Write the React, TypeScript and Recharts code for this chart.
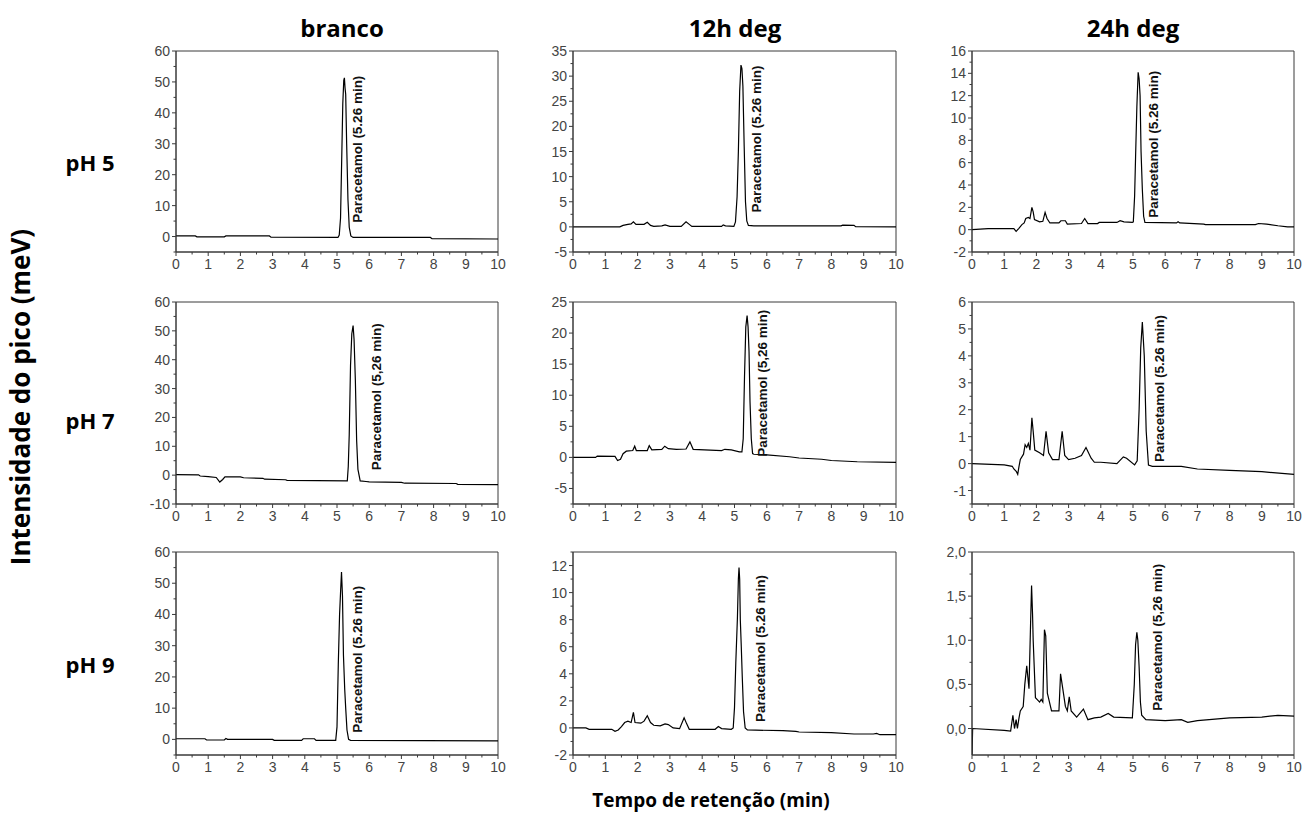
import React from "react";
import { LineChart, Line, XAxis, YAxis, ReferenceArea, ReferenceDot } from "recharts";

type Pt = [number, number];

const columns = ["branco", "12h deg", "24h deg"];
const rows = ["pH 5", "pH 7", "pH 9"];
const xTitle = "Tempo de retenção (min)";
const yTitle = "Intensidade do pico (meV)";

const xMajor = [0, 1, 2, 3, 4, 5, 6, 7, 8, 9, 10];
const xMinor = [0.5, 1.5, 2.5, 3.5, 4.5, 5.5, 6.5, 7.5, 8.5, 9.5];

// chromatograms, [time (min), intensity]
const branco5: Pt[] = [
  [0, 0.2], [0.6, 0.2], [0.65, -0.1], [1.5, -0.1], [1.55, 0.2], [2.9, 0.2], [2.95, -0.2],
  [5.03, -0.3], [5.07, 0.5], [5.11, 6], [5.15, 27], [5.18, 43], [5.21, 50.5], [5.23, 51.3],
  [5.25, 48], [5.27, 46], [5.3, 30], [5.34, 12], [5.38, 3], [5.43, 0.2], [5.5, -0.3],
  [7.9, -0.3], [7.95, -0.7], [10, -0.8],
];
const deg12_5: Pt[] = [
  [0, 0], [1.45, 0], [1.55, 0.3], [1.7, 0.5], [1.8, 0.6], [1.87, 1.0], [1.95, 0.5], [2.2, 0.5],
  [2.3, 0.9], [2.4, 0.3], [2.5, 0.1], [2.75, 0.2], [2.85, 0.4], [3.0, 0.1], [3.35, 0.1],
  [3.5, 1.0], [3.6, 0.5], [3.68, 0.1], [4.6, 0.1], [4.65, 0.4], [4.72, 0.2], [4.98, 0.1],
  [5.03, 1], [5.08, 6], [5.12, 15], [5.16, 27], [5.2, 32.2], [5.23, 31.5], [5.26, 28],
  [5.3, 16], [5.34, 5], [5.38, 1.2], [5.43, 0.3], [5.6, 0.2], [8.3, 0.2], [8.35, 0.35],
  [8.7, 0.3], [8.75, 0.05], [10, 0],
];
const deg24_5: Pt[] = [
  [0, 0], [0.5, 0.1], [1.3, 0.1], [1.37, -0.15], [1.45, 0.1], [1.55, 0.45], [1.62, 0.6],
  [1.67, 1.0], [1.75, 1.1], [1.8, 1.0], [1.86, 2.0], [1.9, 1.6], [1.94, 0.9], [2.1, 0.7],
  [2.2, 0.75], [2.27, 1.55], [2.33, 1.0], [2.42, 0.6], [2.7, 0.6], [2.76, 0.8], [2.9, 0.8],
  [2.96, 0.5], [3.4, 0.55], [3.5, 1.0], [3.6, 0.55], [3.9, 0.55], [3.95, 0.65], [4.5, 0.65],
  [4.6, 0.8], [4.72, 0.7], [4.98, 0.65], [5.01, 0.7], [5.05, 3], [5.08, 6.5], [5.12, 11],
  [5.16, 14.1], [5.19, 13.5], [5.22, 12], [5.25, 7], [5.29, 3.6], [5.33, 1.2], [5.37, 0.65],
  [6.35, 0.6], [6.4, 0.7], [6.45, 0.6], [7.2, 0.5], [7.25, 0.45], [8.8, 0.45], [8.9, 0.55],
  [9.15, 0.5], [9.5, 0.35], [9.8, 0.25], [10, 0.25],
];
const branco7: Pt[] = [
  [0, 0.2], [0.7, 0.1], [0.75, -0.3], [1.0, -0.5], [1.25, -0.8], [1.36, -2.4], [1.45, -1.5],
  [1.52, -0.6], [2.0, -0.6], [2.1, -0.9], [2.7, -1.1], [2.75, -1.4], [3.4, -1.6], [3.45, -1.8],
  [5.32, -2], [5.35, 3], [5.38, 14], [5.42, 38], [5.46, 49], [5.5, 51.8], [5.53, 47],
  [5.57, 33], [5.61, 12], [5.65, 2], [5.72, -2], [5.9, -2.2], [6.0, -2.3], [7.0, -2.5],
  [7.1, -2.8], [8.7, -2.9], [8.75, -3.2], [10, -3.3],
];
const deg12_7: Pt[] = [
  [0, 0], [0.7, 0], [0.75, 0.2], [1.3, 0.15], [1.38, -0.5], [1.47, -0.3], [1.55, 0.6],
  [1.65, 1.0], [1.85, 1.1], [1.91, 1.8], [1.96, 1.1], [2.3, 1.1], [2.36, 1.9], [2.44, 1.2],
  [2.75, 1.3], [2.84, 1.8], [2.95, 1.4], [3.2, 1.3], [3.5, 1.35], [3.62, 2.5], [3.72, 1.3],
  [4.6, 1.1], [4.7, 1.3], [4.9, 1.2], [5.15, 0.9], [5.23, 0.9], [5.27, 3], [5.31, 13],
  [5.35, 21], [5.39, 22.8], [5.42, 21], [5.45, 17], [5.48, 9], [5.52, 3], [5.56, 0.6],
  [5.6, 0.5], [6.0, 0.4], [6.7, 0.1], [7.0, -0.1], [7.7, -0.3], [8.0, -0.5], [8.8, -0.7],
  [10, -0.8],
];
const deg24_7: Pt[] = [
  [0, 0], [1.0, -0.05], [1.25, -0.1], [1.3, -0.2], [1.38, -0.3], [1.42, -0.4], [1.46, -0.1],
  [1.5, 0.15], [1.6, 0.35], [1.65, 0.7], [1.7, 0.6], [1.75, 0.75], [1.8, 0.5], [1.86, 1.7],
  [1.9, 1.2], [1.95, 0.5], [2.1, 0.4], [2.22, 0.3], [2.3, 1.2], [2.38, 0.4], [2.5, 0.15],
  [2.7, 0.15], [2.8, 1.2], [2.88, 0.3], [3.0, 0.15], [3.2, 0.2], [3.4, 0.3], [3.54, 0.6],
  [3.7, 0.2], [3.8, 0.05], [4.0, 0.05], [4.5, 0], [4.7, 0.25], [4.8, 0.2], [5.05, -0.05],
  [5.13, 0.1], [5.19, 2.0], [5.24, 4.3], [5.29, 5.26], [5.35, 4.0], [5.41, 1.2], [5.48, -0.05],
  [5.6, -0.1], [6.5, -0.1], [7.0, -0.2], [8.0, -0.25], [9.0, -0.3], [10, -0.4],
];
const branco9: Pt[] = [
  [0, 0.2], [0.9, 0.2], [0.95, -0.2], [1.5, -0.2], [1.55, 0.3], [1.6, 0], [3.0, 0],
  [3.05, -0.3], [3.9, -0.3], [3.95, 0.2], [4.3, 0.2], [4.35, -0.3], [4.96, -0.3], [5.0, 4],
  [5.04, 24], [5.08, 40], [5.11, 47], [5.14, 53.6], [5.17, 46], [5.2, 27], [5.24, 16],
  [5.27, 10], [5.31, 3], [5.36, 0], [5.42, -0.3], [10, -0.5],
];
const deg12_9: Pt[] = [
  [0, 0], [0.4, 0], [0.5, -0.1], [1.2, -0.1], [1.3, -0.25], [1.4, -0.15], [1.5, 0.1],
  [1.6, 0.4], [1.7, 0.5], [1.8, 0.4], [1.87, 1.15], [1.92, 0.4], [2.1, 0.35], [2.2, 0.5],
  [2.3, 0.9], [2.4, 0.4], [2.5, 0.2], [2.7, 0.15], [2.85, 0.3], [2.95, 0.25], [3.1, 0],
  [3.3, -0.05], [3.44, 0.75], [3.52, 0.3], [3.6, -0.1], [4.4, -0.1], [4.5, 0.1], [4.6, -0.05],
  [4.9, -0.1], [4.96, 0], [5.0, 1.5], [5.04, 4.8], [5.09, 8.1], [5.12, 11], [5.14, 11.85],
  [5.16, 11], [5.18, 8], [5.21, 6], [5.24, 3.8], [5.28, 1.2], [5.33, 0], [5.4, -0.15],
  [6.5, -0.2], [6.9, -0.25], [7.0, -0.3], [8.0, -0.35], [8.7, -0.45], [9.3, -0.45],
  [9.4, -0.4], [9.5, -0.5], [10, -0.5],
];
const deg24_9: Pt[] = [
  [0, -0.3], [0.02, 0], [1.0, -0.02], [1.2, -0.03], [1.27, 0.15], [1.32, 0], [1.37, 0.1],
  [1.41, 0], [1.46, 0.12], [1.5, 0.2], [1.59, 0.25], [1.64, 0.5], [1.7, 0.71], [1.77, 0.45],
  [1.82, 1.2], [1.85, 1.62], [1.88, 1.3], [1.9, 1.0], [1.97, 0.35], [2.1, 0.3], [2.15, 0.33],
  [2.2, 0.3], [2.25, 1.12], [2.29, 1.05], [2.34, 0.4], [2.47, 0.2], [2.7, 0.2], [2.75, 0.62],
  [2.82, 0.45], [2.9, 0.25], [2.96, 0.2], [3.02, 0.36], [3.08, 0.2], [3.25, 0.13],
  [3.46, 0.22], [3.6, 0.1], [3.8, 0.12], [4.0, 0.13], [4.23, 0.17], [4.4, 0.13], [4.98, 0.12],
  [5.04, 0.5], [5.08, 0.95], [5.12, 1.09], [5.15, 1.0], [5.19, 0.7], [5.23, 0.3], [5.27, 0.15],
  [5.4, 0.1], [6.0, 0.09], [6.5, 0.1], [6.7, 0.07], [7.0, 0.09], [8.0, 0.12], [9.0, 0.13],
  [9.5, 0.15], [10, 0.14],
];

// y ticks per panel
const yMajorB5 = [0, 10, 20, 30, 40, 50, 60];
const yMinorB5 = [-5, 5, 15, 25, 35, 45, 55];
const yMajorD12_5 = [-5, 0, 5, 10, 15, 20, 25, 30, 35];
const yMinorD12_5 = [-2.5, 2.5, 7.5, 12.5, 17.5, 22.5, 27.5, 32.5];
const yMajorD24_5 = [-2, 0, 2, 4, 6, 8, 10, 12, 14, 16];
const yMinorD24_5 = [-1, 1, 3, 5, 7, 9, 11, 13, 15];
const yMajorB7 = [-10, 0, 10, 20, 30, 40, 50, 60];
const yMinorB7 = [-5, 5, 15, 25, 35, 45, 55];
const yMajorD12_7 = [-5, 0, 5, 10, 15, 20, 25];
const yMinorD12_7 = [-7.5, -2.5, 2.5, 7.5, 12.5, 17.5, 22.5];
const yMajorD24_7 = [-1, 0, 1, 2, 3, 4, 5, 6];
const yMinorD24_7 = [-1.5, -0.5, 0.5, 1.5, 2.5, 3.5, 4.5, 5.5];
const yMajorB9 = [0, 10, 20, 30, 40, 50, 60];
const yMinorB9 = [-5, 5, 15, 25, 35, 45, 55];
const yMajorD12_9 = [-2, 0, 2, 4, 6, 8, 10, 12];
const yMinorD12_9 = [-1, 1, 3, 5, 7, 9, 11, 13];
const yMajorD24_9 = [0, 0.5, 1, 1.5, 2];
const yMinorD24_9 = [0.25, 0.75, 1.25, 1.75];

const panels = [
  { data: branco5, domain: [-5, 60], major: yMajorB5, minor: yMinorB5, lab: [5.65, 4.5], text: "Paracetamol (5.26 min)" },
  { data: deg12_5, domain: [-5, 35], major: yMajorD12_5, minor: yMinorD12_5, lab: [5.69, 2.85], text: "Paracetamol (5.26 min)" },
  { data: deg24_5, domain: [-2, 16], major: yMajorD24_5, minor: yMinorD24_5, lab: [5.65, 1.07], text: "Paracetamol (5.26 min)" },
  { data: branco7, domain: [-10, 60], major: yMajorB7, minor: yMinorB7, lab: [6.24, 1.7], text: "Paracetamol (5,26 min)" },
  { data: deg12_7, domain: [-7.5, 25], major: yMajorD12_7, minor: yMinorD12_7, lab: [5.89, 0.1], text: "Paracetamol (5,26 min)" },
  { data: deg24_7, domain: [-1.5, 6], major: yMajorD24_7, minor: yMinorD24_7, lab: [5.84, 0.06], text: "Paracetamol (5.26 min)" },
  { data: branco9, domain: [-5, 60], major: yMajorB9, minor: yMinorB9, lab: [5.65, 2.1], text: "Paracetamol (5.26 min)" },
  { data: deg12_9, domain: [-2, 13], major: yMajorD12_9, minor: yMinorD12_9, lab: [5.81, 0.44], text: "Paracetamol (5.26 min)" },
  { data: deg24_9, domain: [-0.3, 2], major: yMajorD24_9, minor: yMinorD24_9, lab: [5.79, 0.2], text: "Paracetamol (5,26 min)", comma: true },
];

const colLeft = [176, 573, 972];
const colW = [322, 323, 322];
const rowTop = [51, 302, 552];
const rowH = [201, 202, 203];

const AXIS = "#3a3a3a";
const TICK_TEXT = "#444";
const tickFont = "'Liberation Sans', Arial, sans-serif";
const titleFont = "'Open Sans', 'Noto Sans', sans-serif";

const PAD_L = 45;
const PAD_T = 8;
const PAD_R = 8;
const PAD_B = 30;

const XTick = (props: any) => {
  const { x, y, payload } = props;
  const v = payload.value;
  const major = Number.isInteger(v);
  return (
    <g>
      <line x1={x} x2={x} y1={y} y2={y + (major ? 4 : 2.5)} stroke={AXIS} />
      {major && (
        <text x={x} y={y + 17} textAnchor="middle" fontSize={14} fill={TICK_TEXT} fontFamily={tickFont}>
          {v}
        </text>
      )}
    </g>
  );
};

const makeYTick = (major: number[], comma?: boolean) => (props: any) => {
  const { x, y, payload } = props;
  const v = payload.value;
  const isMajor = major.some((m) => Math.abs(m - v) < 1e-9);
  const label = comma ? v.toFixed(1).replace(".", ",") : String(v);
  return (
    <g>
      <line x1={x - (isMajor ? 4 : 2.5)} x2={x} y1={y} y2={y} stroke={AXIS} />
      {isMajor && (
        <text x={x - 6} y={y} dy={5} textAnchor="end" fontSize={14} fill={TICK_TEXT} fontFamily={tickFont}>
          {label}
        </text>
      )}
    </g>
  );
};

const Panel = ({ p, col, row }: { p: any; col: number; row: number }) => {
  const w = colW[col] + PAD_L + PAD_R;
  const h = rowH[row] + PAD_T + PAD_B;
  const yTicks = [...p.major, ...p.minor].sort((a: number, b: number) => a - b);
  const data = p.data.map(([t, v]: Pt) => ({ t, v }));
  return (
    <div style={{ position: "absolute", left: colLeft[col] - PAD_L, top: rowTop[row] - PAD_T }}>
      <LineChart width={w} height={h} data={data} margin={{ top: PAD_T, right: PAD_R, bottom: 0, left: 0 }}>
        <XAxis
          type="number"
          dataKey="t"
          domain={[0, 10]}
          ticks={[...xMajor, ...xMinor].sort((a, b) => a - b)}
          interval={0}
          tickSize={0}
          tickMargin={0}
          tickLine={false}
          tick={XTick}
          height={PAD_B}
          stroke={AXIS}
          allowDataOverflow
        />
        <YAxis
          type="number"
          domain={p.domain}
          ticks={yTicks}
          interval={0}
          tickSize={0}
          tickMargin={0}
          tickLine={false}
          tick={makeYTick(p.major, p.comma)}
          width={PAD_L}
          stroke={AXIS}
          allowDataOverflow
        />
        <ReferenceArea x1={0} x2={10} y1={p.domain[0]} y2={p.domain[1]} fill="none" stroke={AXIS} strokeWidth={1} ifOverflow="visible" />
        <Line type="linear" dataKey="v" stroke="#000" strokeWidth={1.2} dot={false} isAnimationActive={false} />
        <ReferenceDot
          x={p.lab[0]}
          y={p.lab[1]}
          r={0}
          ifOverflow="visible"
          shape={(s: any) => (
            <text
              x={s.cx}
              y={s.cy}
              transform={`rotate(-90 ${s.cx} ${s.cy})`}
              dominantBaseline="central"
              fontSize={12.5}
              fontWeight="bold"
              fontFamily="'Liberation Sans Narrow', 'Arial Narrow', 'Liberation Sans', Arial, sans-serif"
              textLength={147}
              lengthAdjust="spacingAndGlyphs"
              fill="#111"
            >
              {p.text}
            </text>
          )}
        />
      </LineChart>
    </div>
  );
};

const colCenter = [342, 735, 1133];
const rowCenter = [162, 420, 664];

export default function App() {
  return (
    <div style={{ position: "absolute", left: 0, top: 0, width: 1302, height: 814, background: "#fff", fontFamily: titleFont }}>
      {columns.map((c, i) => (
        <div
          key={c}
          style={{ position: "absolute", left: colCenter[i], top: 27, transform: "translate(-50%, -50%)", fontSize: 24, fontWeight: 700, whiteSpace: "nowrap" }}
        >
          {c}
        </div>
      ))}
      {rows.map((r, i) => (
        <div
          key={r}
          style={{ position: "absolute", left: 90, top: rowCenter[i], transform: "translate(-50%, -50%)", fontSize: 22, fontWeight: 700, whiteSpace: "nowrap" }}
        >
          {r}
        </div>
      ))}
      <div
        style={{ position: "absolute", left: 20, top: 397, transform: "translate(-50%, -50%) rotate(-90deg)", fontSize: 26, fontWeight: 700, whiteSpace: "nowrap" }}
      >
        {yTitle}
      </div>
      <div
        style={{ position: "absolute", left: 711, top: 800, transform: "translate(-50%, -50%)", fontSize: 19, fontWeight: 700, whiteSpace: "nowrap" }}
      >
        {xTitle}
      </div>
      {panels.map((p, i) => (
        <Panel key={i} p={p} col={i % 3} row={Math.floor(i / 3)} />
      ))}
    </div>
  );
}
